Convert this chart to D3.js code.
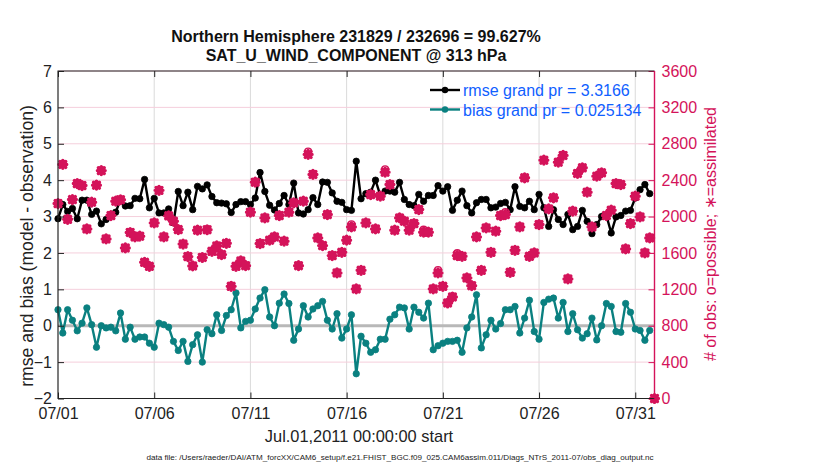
<!DOCTYPE html>
<html>
<head>
<meta charset="utf-8">
<title>rmse and bias</title>
<style>
    body { margin: 0; background: #fff; }
    svg { display: block; font-family: "Liberation Sans", Arial, sans-serif; }
</style>
<script src="https://d3js.org/d3.v7.min.js"></script>
</head>
<body>
<svg width="830" height="470"></svg>
<script>
// time axis: 6-hourly bins starting Jul 1 2011
var startDate = Date.UTC(2011, 6, 1);
var endDate = Date.UTC(2011, 7, 1);
var stepHours = 6;
var xTickDays = [1, 6, 11, 16, 21, 26, 31];
var leftTicks = [-2, -1, 0, 1, 2, 3, 4, 5, 6, 7];
var rightTicks = [0, 400, 800, 1200, 1600, 2000, 2400, 2800, 3200, 3600];

var titleLines = ["Northern Hemisphere 231829 / 232696 = 99.627%", "SAT_U_WIND_COMPONENT @ 313 hPa"];
var legendLabels = ["rmse grand pr = 3.3166", "bias grand pr = 0.025134"];

var rmse = [2.94,3.33,3.14,3.22,2.94,3.45,3.45,3.06,3.15,2.80,2.92,3.06,3.12,3.47,3.29,3.30,3.50,3.49,4.02,3.24,
            3.50,3.10,3.10,3.21,2.83,3.69,3.30,3.67,3.19,3.83,3.76,3.87,3.55,3.38,3.37,3.35,3.11,3.33,3.41,3.41,
            3.33,3.51,4.21,3.69,3.31,3.18,3.36,3.58,3.33,3.92,3.10,3.07,3.19,3.52,3.33,3.95,3.94,3.65,3.42,3.39,
            3.19,3.17,4.52,3.49,3.63,3.67,4.00,3.58,3.70,3.70,3.67,3.94,3.47,3.33,3.30,3.61,3.42,3.58,3.58,3.85,
            3.70,3.82,3.17,3.45,3.70,3.30,3.10,3.38,3.47,3.47,3.24,3.26,3.36,3.39,3.19,3.82,3.28,3.24,3.42,3.19,
            3.61,3.24,2.73,3.19,2.92,2.78,3.06,2.64,2.73,3.17,2.87,2.53,2.78,3.00,3.03,2.55,2.99,3.03,3.15,3.17,
            3.51,3.74,3.88,3.63];

var bias = [0.44,-0.20,0.44,0.15,-0.14,0.07,0.49,0.03,-0.59,0.00,-0.06,-0.04,-0.14,0.35,-0.37,-0.04,-0.37,-0.31,-0.31,-0.48,
            -0.59,0.07,0.03,-0.04,-0.43,-0.68,-0.43,-0.98,-0.52,-0.25,-1.00,-0.11,-0.22,0.30,-0.13,0.28,0.44,0.90,-0.06,0.12,
            0.15,0.46,0.76,0.99,0.24,0.00,0.62,0.87,0.61,-0.40,-0.09,0.55,0.24,0.46,0.55,0.67,0.15,-0.09,0.33,-0.34,
            -0.09,0.30,-1.32,-0.29,-0.48,-0.73,-0.66,-0.37,-0.37,0.18,0.30,0.51,0.49,-0.09,0.51,0.37,0.21,0.62,-0.66,-0.55,
            -0.48,-0.43,-0.43,-0.40,-0.73,-0.06,0.24,0.85,-0.61,-0.25,0.15,-0.09,0.06,0.44,0.44,0.53,-0.20,0.21,0.70,-0.16,
            -0.37,0.64,0.73,0.76,0.21,0.64,-0.16,0.33,-0.11,-0.34,-0.22,0.21,-0.39,0.00,0.61,0.53,-0.16,-0.18,0.61,0.37,
            -0.09,-0.13,-0.40,-0.13];

var nAssim = [2143,2573,1970,2187,2363,2341,1864,2158,2345,2505,1754,2011,2169,2185,1655,1825,1776,1784,1497,1453,
              1930,2288,1776,2008,1949,1857,1698,1560,1457,1850,1550,1855,1618,1677,1582,1706,1233,1453,1512,1460,
              2048,2378,1703,1985,1740,1776,2011,1729,2048,2150,1460,2169,2683,2463,1765,1681,2022,1571,1380,1607,
              1740,1886,1204,1409,1930,2242,1864,2224,2488,2352,1850,1985,1949,1850,1923,2077,1828,1828,1204,1380,
              1233,1050,1116,1571,1563,1325,1240,1776,1409,1875,1607,1839,2011,2022,1387,1629,1886,2426,1563,1600,
              1912,2620,2084,2206,2598,2672,1314,2059,2474,2536,2268,1886,2444,2481,2011,2070,2363,2352,1644,1923,
              2224,1996,1600,1765,0];

var nPoss = [2150,2578,1975,2190,2368,2346,1870,2162,2350,2510,1760,2016,2175,2190,1660,1830,1782,1790,1503,1458,
             1936,2293,1782,2013,1955,1862,1704,1566,1463,1856,1556,1861,1624,1683,1588,1712,1240,1459,1518,1466,
             2054,2384,1709,1991,1746,1782,2017,1735,2054,2156,1466,2175,2715,2469,1771,1687,2028,1577,1386,1613,
             1746,1915,1210,1415,1936,2248,1870,2230,2520,2358,1856,1991,1955,1856,1929,2083,1856,1834,1210,1412,
             1239,1056,1122,1598,1569,1331,1246,1782,1415,1881,1613,1845,2017,2050,1393,1635,1892,2432,1569,1606,
             1918,2626,2090,2212,2604,2678,1320,2065,2480,2542,2274,1892,2450,2487,2017,2076,2369,2358,1650,1929,
             2230,2002,1606,1771,0];

var colRmse = "#000000", colBias = "#0a8080", colObs = "#d4135a", colLegend = "#1060ff";

var svg = d3.select("svg");
var pL = 58, pR = 654.5, pT = 71, pB = 398.5;

var x = d3.scaleUtc().domain([startDate, endDate]).range([pL, pR]);
var yL = d3.scaleLinear().domain([-2, 7]).range([pB, pT]);
var yR = d3.scaleLinear().domain([0, 3600]).range([pB, pT]);
var timeAt = i => new Date(startDate + i * stepHours * 3600e3);
var xTicks = xTickDays.map(d => new Date(Date.UTC(2011, 6, d)));

// grid
svg.append("g").selectAll("line").data(xTicks).join("line")
    .attr("x1", d => x(d)).attr("x2", d => x(d))
    .attr("y1", pT).attr("y2", pB)
    .attr("stroke", "#dadada").attr("stroke-width", 1);
svg.append("g").selectAll("line").data(rightTicks).join("line")
    .attr("x1", pL).attr("x2", pR)
    .attr("y1", d => yR(d)).attr("y2", d => yR(d))
    .attr("stroke", "#f5cfdc").attr("stroke-width", 1);

// zero line
svg.append("line")
    .attr("x1", pL).attr("x2", pR)
    .attr("y1", yL(0)).attr("y2", yL(0))
    .attr("stroke", "#b8b8b8").attr("stroke-width", 3);

// rmse and bias lines
function series(vals, col) {
    var line = d3.line().x((d, i) => x(timeAt(i))).y(d => yL(d));
    svg.append("path").datum(vals)
        .attr("d", line).attr("fill", "none")
        .attr("stroke", col).attr("stroke-width", 2.4).attr("stroke-linejoin", "round");
    svg.append("g").selectAll("circle").data(vals).join("circle")
        .attr("cx", (d, i) => x(timeAt(i))).attr("cy", d => yL(d))
        .attr("r", 3.2).attr("fill", col).attr("stroke", col).attr("stroke-width", 0.8);
}
series(rmse, colRmse);
series(bias, colBias);

// obs counts: o = possible, asterisk = assimilated
var r = 3.9, k = r * 0.75;
var star = "M" + (-r) + ",0H" + r + "M0," + (-r) + "V" + r +
    "M" + (-k) + "," + (-k) + "L" + k + "," + k + "M" + (-k) + "," + k + "L" + k + "," + (-k);
svg.append("g").selectAll("circle").data(nPoss).join("circle")
    .attr("cx", (d, i) => x(timeAt(i))).attr("cy", d => yR(d))
    .attr("r", 3.4).attr("fill", "none").attr("stroke", colObs).attr("stroke-width", 1.4);
svg.append("g").selectAll("path").data(nAssim).join("path")
    .attr("transform", (d, i) => "translate(" + x(timeAt(i)) + "," + yR(d) + ")")
    .attr("d", star).attr("fill", "none")
    .attr("stroke", colObs).attr("stroke-width", 3.4).attr("stroke-linecap", "round");

// axes
function styleAxis(g, col) {
    g.select(".domain").remove();
    g.selectAll(".tick line").attr("stroke", col).attr("stroke-width", 1);
    g.selectAll(".tick text").attr("fill", col).style("font-size", "16px")
        .style("font-family", "'Liberation Sans', Arial, sans-serif");
}
svg.append("g").attr("transform", "translate(" + pL + ",0)")
    .call(d3.axisLeft(yL).tickValues(leftTicks).tickSizeInner(-6).tickSizeOuter(0).tickPadding(6))
    .call(g => styleAxis(g, "#222"));
svg.append("g").attr("transform", "translate(0," + pB + ")")
    .call(d3.axisBottom(x).tickValues(xTicks).tickFormat(d3.utcFormat("%m/%d"))
        .tickSizeInner(-6).tickSizeOuter(0).tickPadding(9))
    .call(g => styleAxis(g, "#222"));
svg.append("g").attr("transform", "translate(0," + pT + ")")
    .call(d3.axisTop(x).tickValues(xTicks).tickFormat("").tickSizeInner(-6).tickSizeOuter(0))
    .call(g => styleAxis(g, "#222"));
svg.append("g").attr("transform", "translate(" + pR + ",0)")
    .call(d3.axisRight(yR).tickValues(rightTicks).tickFormat(d3.format("d"))
        .tickSizeInner(-6).tickSizeOuter(0).tickPadding(7))
    .call(g => styleAxis(g, colObs));

// frame
svg.append("path")
    .attr("d", "M" + pR + "," + pT + "H" + pL + "V" + pB + "H" + pR)
    .attr("fill", "none").attr("stroke", "#222").attr("stroke-width", 1.1);
svg.append("line")
    .attr("x1", pR).attr("x2", pR).attr("y1", pT).attr("y2", pB)
    .attr("stroke", colObs).attr("stroke-width", 1.4);

// legend
[colRmse, colBias].forEach(function (col, i) {
    var ly = 90 + i * 19.5;
    svg.append("line").attr("x1", 430).attr("x2", 460).attr("y1", ly).attr("y2", ly)
        .attr("stroke", col).attr("stroke-width", 2.4);
    svg.append("circle").attr("cx", 445).attr("cy", ly).attr("r", 3.2).attr("fill", col);
    svg.append("text").attr("x", 463).attr("y", ly + 6)
        .attr("fill", colLegend).style("font-size", "16px").text(legendLabels[i]);
});

// titles and labels
titleLines.forEach(function (t, i) {
    svg.append("text").attr("x", 356).attr("y", 42 + i * 19)
        .attr("text-anchor", "middle").style("font-size", "16px").style("font-weight", "bold")
        .attr("fill", "#111").text(t);
});
svg.append("text").attr("transform", "translate(33,246) rotate(-90)")
    .attr("text-anchor", "middle").style("font-size", "17.6px").attr("fill", "#222")
    .text("rmse and bias (model - observation)");
svg.append("text").attr("transform", "translate(716,234) rotate(-90)")
    .attr("text-anchor", "middle").style("font-size", "16px").attr("fill", colObs)
    .text("# of obs: o=possible; \u2217=assimilated");
svg.append("text").attr("x", 359).attr("y", 442)
    .attr("text-anchor", "middle").style("font-size", "16.4px").attr("fill", "#222")
    .text("Jul.01,2011 00:00:00 start");
svg.append("text").attr("x", 400).attr("y", 460)
    .attr("text-anchor", "middle").style("font-size", "8.1px").attr("fill", "#222")
    .text("data file: /Users/raeder/DAI/ATM_forcXX/CAM6_setup/f.e21.FHIST_BGC.f09_025.CAM6assim.011/Diags_NTrS_2011-07/obs_diag_output.nc");
</script>
</body>
</html>
